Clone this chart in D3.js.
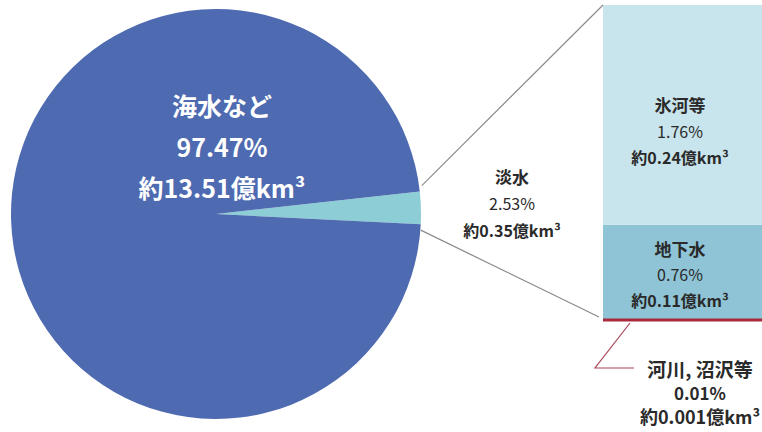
<!DOCTYPE html>
<html>
<head>
<meta charset="utf-8">
<script src="https://cdn.jsdelivr.net/npm/d3@7"></script>
<style>
  body { margin: 0; background: #fff; }
  svg { display: block; font-family: "Noto Sans CJK JP", "Noto Sans", sans-serif; }
</style>
</head>
<body>
<div id="chart"></div>
<script>
// whole earth water
var mainLabels = ["淡水", "海水など"];
var mainShares = [2.53, 97.47];
var mainVolumes = ["約0.35億km³", "約13.51億km³"];

// breakdown of fresh water
var freshLabels = ["氷河等", "地下水", "河川, 沼沢等"];
var freshShares = [1.76, 0.76, 0.01];
var freshVolumes = ["約0.24億km³", "約0.11億km³", "約0.001億km³"];

var width = 762, height = 432;
var cx = 216, cy = 214, r = 205;
var barX = 603, barW = 162, barTop = 5, barBottom = 321;

var svg = d3.select("#chart").append("svg")
    .attr("width", width)
    .attr("height", height);

var pieColor = d3.scaleOrdinal().domain(mainLabels).range(["#8dcdd6", "#4e6ab0"]);
var barColor = d3.scaleOrdinal().domain(freshLabels).range(["#c8e4ec", "#8ec4d5", "#a82a3c"]);

// put the fresh water wedge pointing right, tilted a little upward
var freshAngle = mainShares[0] / 100 * 2 * Math.PI;
var start = Math.PI / 2 - 0.03 - freshAngle / 2;

var pie = d3.pie().sort(null).value(function(d) { return d; })
    .startAngle(start).endAngle(start + 2 * Math.PI);
var arcs = pie(mainShares);
var arc = d3.arc().innerRadius(0).outerRadius(r);

var g = svg.append("g").attr("transform", "translate(" + cx + "," + cy + ")");
g.selectAll("path")
    .data(arcs)
  .enter().append("path")
    .attr("d", arc)
    .attr("fill", function(d, i) { return pieColor(mainLabels[i]); });

// stacked bar for fresh water, stacked from the bottom up
var total = d3.sum(freshShares);
var y = d3.scaleLinear().domain([0, total]).range([barBottom, barTop]);
var order = freshShares.map(function(v, i) {
  return {label: freshLabels[i], share: v, vol: freshVolumes[i]};
}).reverse();
var acc = 0;
order.forEach(function(d) { d.v0 = acc; d.v1 = acc + d.share; acc = d.v1; });

svg.selectAll("rect.seg")
    .data(order.filter(function(d) { return d.label != freshLabels[2]; }))
  .enter().append("rect")
    .attr("class", "seg")
    .attr("x", barX)
    .attr("width", barW)
    .attr("y", function(d) { return y(d.v1); })
    .attr("height", function(d) { return y(d.v0) - y(d.v1); })
    .attr("fill", function(d) { return barColor(d.label); });

// the river share is too thin to see, draw it as a line
var river = order[0];
svg.append("line")
    .attr("x1", barX).attr("x2", barX + barW)
    .attr("y1", y(river.v0) - 1).attr("y2", y(river.v0) - 1)
    .attr("stroke", barColor(river.label))
    .attr("stroke-width", 3);

// connector lines from the wedge to the bar
var fw = arcs[0];
var p1 = [cx + r * Math.sin(fw.startAngle), cy - r * Math.cos(fw.startAngle)];
var p2 = [cx + r * Math.sin(fw.endAngle), cy - r * Math.cos(fw.endAngle)];
svg.append("line")
    .attr("x1", p1[0] + 2).attr("y1", p1[1] - 6)
    .attr("x2", barX).attr("y2", y(total))
    .attr("stroke", "#8a8a8a").attr("stroke-width", 1.2);
svg.append("line")
    .attr("x1", p2[0]).attr("y1", p2[1] + 6)
    .attr("x2", barX - 4).attr("y2", y(0) - 4)
    .attr("stroke", "#8a8a8a").attr("stroke-width", 1.2);

// labels
function block(x, yc, lines, fill, sizes, weights, gap) {
  var t = svg.append("text")
      .attr("text-anchor", "middle")
      .attr("fill", fill);
  lines.forEach(function(s, i) {
    t.append("tspan")
        .attr("x", x)
        .attr("y", yc + (i - (lines.length - 1) / 2) * gap)
        .attr("dominant-baseline", "central")
        .style("font-size", sizes[i] + "px")
        .style("font-weight", weights[i])
        .text(s);
  });
}

block(222, 146, [mainLabels[1], mainShares[1].toFixed(2) + "%", mainVolumes[1]],
  "#ffffff", [25, 25, 25], [700, 700, 700], 41);
block(512, 203, [mainLabels[0], mainShares[0].toFixed(2) + "%", mainVolumes[0]],
  "#2a2a2a", [17, 16, 16], [700, 400, 700], 27);

var offsets = {"氷河等": 16, "地下水": 2};
order.forEach(function(d) {
  if (d.label == freshLabels[2]) return;
  var mid = (y(d.v0) + y(d.v1)) / 2 + offsets[d.label];
  block(barX + barW / 2 - 4, mid, [d.label, d.share.toFixed(2) + "%", d.vol],
    "#2a2a2a", [17, 16, 16], [700, 400, 700], 26);
});

// river label with leader
var ry = y(river.v0);
svg.append("polyline")
    .attr("points", [[630, ry + 2], [595, 368], [634, 368]].join(" "))
    .attr("fill", "none")
    .attr("stroke", "#a8485a")
    .attr("stroke-width", 1.2);
block(700, 392, [river.label, river.share.toFixed(2) + "%", river.vol],
  "#2a2a2a", [19, 17, 18], [700, 700, 700], 24);
</script>
</body>
</html>
